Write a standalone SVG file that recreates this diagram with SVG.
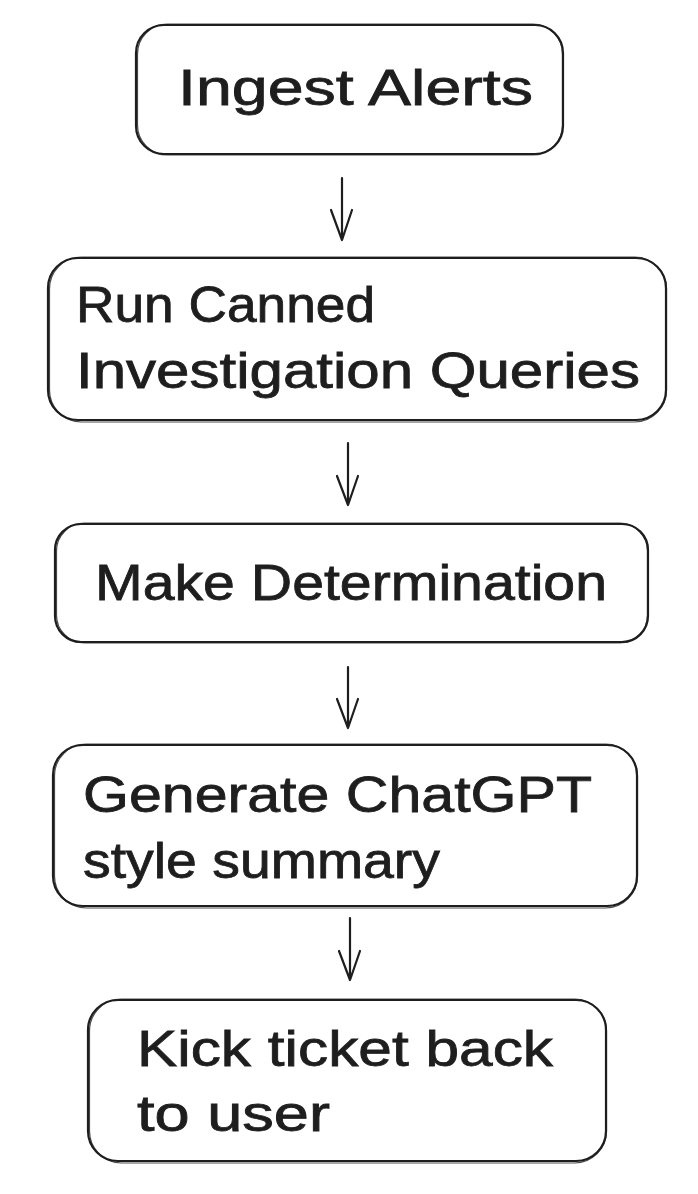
<svg xmlns="http://www.w3.org/2000/svg" width="698" height="1194" viewBox="0 0 698 1194">
<style>
.box{fill:#ffffff;stroke:#1e1e1e;stroke-width:2.2;}
.sk{fill:none;stroke:#1e1e1e;stroke-width:1.2;opacity:0.8;}
.t{font-family:"Liberation Sans","DejaVu Sans",sans-serif;font-size:50px;fill:#1e1e1e;stroke:#1e1e1e;stroke-width:0.8;}
.c{fill:none;stroke:#1e1e1e;stroke-width:2.2;stroke-linecap:round;stroke-linejoin:round;}
</style>
<rect width="698" height="1194" fill="#ffffff"/>
<g id="node-ingest">
<rect class="box" x="136" y="25" width="427" height="129" rx="28"/>
<rect class="sk" x="137.5" y="24" width="425" height="131" rx="30"/>
<text class="t" x="178" y="105" textLength="355" lengthAdjust="spacingAndGlyphs">Ingest Alerts</text>
</g>
<g id="node-queries">
<rect class="box" x="48" y="258" width="618" height="162" rx="30"/>
<rect class="sk" x="49.5" y="257" width="617" height="165" rx="32"/>
<text class="t" x="76" y="322" textLength="299" lengthAdjust="spacingAndGlyphs">Run Canned</text>
<text class="t" x="76" y="388" textLength="564" lengthAdjust="spacingAndGlyphs">Investigation Queries</text>
</g>
<g id="node-determination">
<rect class="box" x="55" y="524" width="593" height="118" rx="26"/>
<rect class="sk" x="56.5" y="523" width="591" height="120" rx="28"/>
<text class="t" x="95" y="600" textLength="512" lengthAdjust="spacingAndGlyphs">Make Determination</text>
</g>
<g id="node-summary">
<rect class="box" x="53" y="745" width="584" height="161" rx="30"/>
<rect class="sk" x="54.5" y="744" width="583" height="164" rx="32"/>
<text class="t" x="83" y="812" textLength="509" lengthAdjust="spacingAndGlyphs">Generate ChatGPT</text>
<text class="t" x="83" y="878" textLength="357" lengthAdjust="spacingAndGlyphs">style summary</text>
</g>
<g id="node-kick">
<rect class="box" x="88" y="1000" width="518" height="161" rx="30"/>
<rect class="sk" x="89.5" y="999" width="517" height="164" rx="32"/>
<text class="t" x="137" y="1066" textLength="416" lengthAdjust="spacingAndGlyphs">Kick ticket back</text>
<text class="t" x="137" y="1131" textLength="193" lengthAdjust="spacingAndGlyphs">to user</text>
</g>
<g id="connectors">
<path class="c" d="M342 178 L342 240 M331 210 L342 240 L352 210"/>
<path class="c" d="M348 443 L348 505 M337 476 L348 505 L358 476"/>
<path class="c" d="M348 667 L348 728 M337 699 L348 728 L358 699"/>
<path class="c" d="M350 918 L350 980 M339 951 L350 980 L360 951"/>
</g>
</svg>
